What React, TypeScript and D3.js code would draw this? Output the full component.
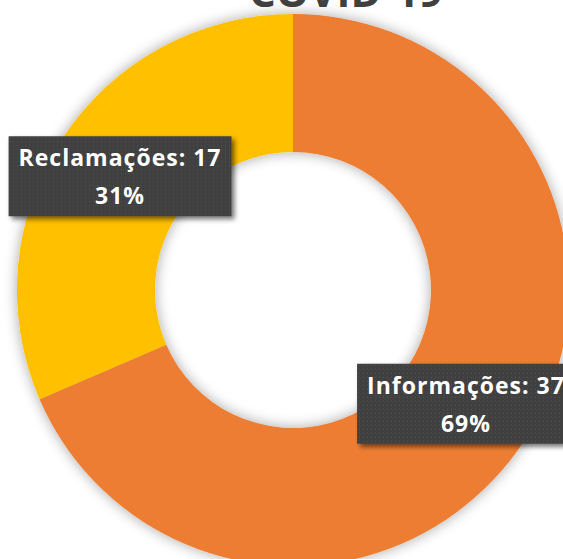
import React, { useEffect, useRef } from "react";
import * as d3 from "d3";

const categories = ["Informações", "Reclamações"];
const values = [37, 17];
const colors = ["#ED7D31", "#FFC000"];
const title = "COVID-19";

const W = 563;
const H = 559;

export default function App() {
  const ref = useRef<SVGSVGElement | null>(null);

  useEffect(() => {
    const svg = d3.select(ref.current);
    svg.selectAll("*").remove();

    const defs = svg.append("defs");
    const pat = defs
      .append("pattern")
      .attr("id", "dots")
      .attr("width", 4)
      .attr("height", 4)
      .attr("patternUnits", "userSpaceOnUse");
    pat.append("rect").attr("width", 4).attr("height", 4).attr("fill", "#404040");
    pat.append("rect").attr("x", 1).attr("y", 1).attr("width", 1).attr("height", 1).attr("fill", "#565656");

    const ringShadow = defs.append("filter").attr("id", "ringShadow")
      .attr("x", "-20%").attr("y", "-20%").attr("width", "140%").attr("height", "140%");
    ringShadow.append("feGaussianBlur").attr("in", "SourceAlpha").attr("stdDeviation", 7).attr("result", "b");
    ringShadow.append("feOffset").attr("in", "b").attr("dx", 0).attr("dy", 0).attr("result", "o");
    ringShadow.append("feComponentTransfer").attr("in", "o").attr("result", "s")
      .append("feFuncA").attr("type", "linear").attr("slope", 0.35);
    const m1 = ringShadow.append("feMerge");
    m1.append("feMergeNode").attr("in", "s");
    m1.append("feMergeNode").attr("in", "SourceGraphic");

    const boxShadow = defs.append("filter").attr("id", "boxShadow")
      .attr("x", "-20%").attr("y", "-30%").attr("width", "140%").attr("height", "160%");
    boxShadow.append("feGaussianBlur").attr("in", "SourceAlpha").attr("stdDeviation", 2.5).attr("result", "b");
    boxShadow.append("feOffset").attr("in", "b").attr("dx", 3).attr("dy", 3).attr("result", "o");
    boxShadow.append("feComponentTransfer").attr("in", "o").attr("result", "s")
      .append("feFuncA").attr("type", "linear").attr("slope", 0.55);
    const m2 = boxShadow.append("feMerge");
    m2.append("feMergeNode").attr("in", "s");
    m2.append("feMergeNode").attr("in", "SourceGraphic");

    const cx = 293;
    const cy = 290;
    const outerR = 276;
    const innerR = 138;
    const font = "'Open Sans', 'Noto Sans', sans-serif";

    svg.append("text")
      .attr("x", 346)
      .attr("y", 7)
      .attr("text-anchor", "middle")
      .attr("font-family", font)
      .attr("font-weight", "bold")
      .attr("font-size", 42)
      .attr("fill", "#404040")
      .text(title);

    const data = categories.map((c, i) => ({ name: c, value: values[i], color: colors[i] }));
    const total = d3.sum(values);
    const pie = d3.pie<any>().value((d) => d.value).sort(null);
    const arc = d3.arc<any>().innerRadius(innerR).outerRadius(outerR);
    const arcs = pie(data);

    const g = svg.append("g").attr("transform", `translate(${cx},${cy})`);
    g.append("g").attr("filter", "url(#ringShadow)")
      .selectAll("path")
      .data(arcs)
      .join("path")
      .attr("d", arc as any)
      .attr("fill", (d: any) => d.data.color);

    const fmt = d3.format(".0%");
    arcs.forEach((a: any) => {
      const [x, y] = arc.centroid(a);
      const lg = g.append("g").attr("transform", `translate(${x},${y})`);
      const box = lg.append("rect").attr("fill", "url(#dots)").attr("filter", "url(#boxShadow)");
      const t1 = lg.append("text")
        .attr("x", 0).attr("y", -10)
        .attr("text-anchor", "middle")
        .attr("font-family", font)
        .attr("font-weight", "bold")
        .attr("font-size", 23)
        .attr("letter-spacing", 1)
        .attr("fill", "#ffffff")
        .text(`${a.data.name}: ${a.data.value}`);
      lg.append("text")
        .attr("x", 0).attr("y", 28)
        .attr("text-anchor", "middle")
        .attr("font-family", font)
        .attr("font-weight", "bold")
        .attr("font-size", 23)
        .attr("letter-spacing", 1)
        .attr("fill", "#ffffff")
        .text(fmt(a.data.value / total));
      const tw = (t1.node() as SVGTextElement).getComputedTextLength();
      const bw = tw + 20;
      box.attr("x", -bw / 2).attr("y", -40).attr("width", bw).attr("height", 80);
    });
  }, []);

  return (
    <svg
      ref={ref}
      width={W}
      height={H}
      style={{ position: "absolute", left: 0, top: 0, background: "#ffffff" }}
    />
  );
}
